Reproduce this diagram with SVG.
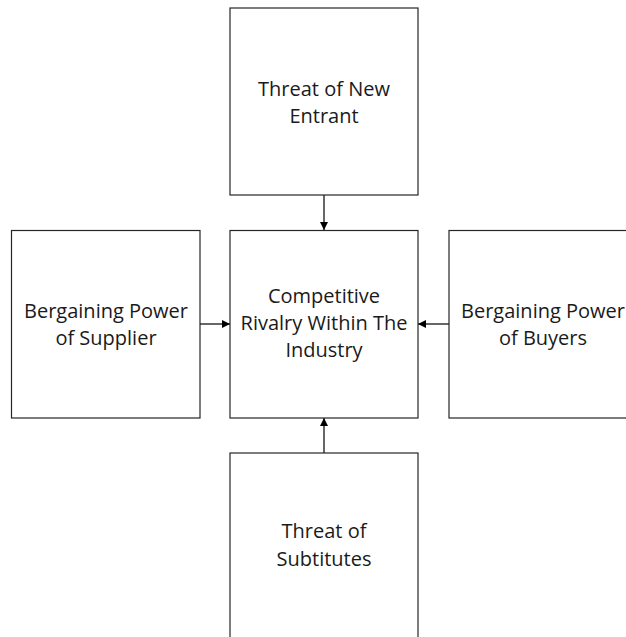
<svg xmlns="http://www.w3.org/2000/svg" width="626" height="637" viewBox="0 0 626 637">
<defs>
<style>
.box{fill:#fff;stroke:#262626;stroke-width:1.2}
.t{font-family:"Open Sans","Noto Sans",sans-serif;font-size:20px;fill:#1a1a1a;text-anchor:middle}
.c{stroke:#000;stroke-width:1.2;fill:none}
</style>
<marker id="ah" viewBox="0 0 10 10" refX="10" refY="5" markerWidth="8" markerHeight="8" markerUnits="userSpaceOnUse" orient="auto">
<path d="M0,0 L10,5 L0,10 z" fill="#000"/>
</marker>
</defs>
<g id="connectors">
<line class="c" x1="324" y1="195" x2="324" y2="230" marker-end="url(#ah)"/>
<line class="c" x1="200" y1="324" x2="230" y2="324" marker-end="url(#ah)"/>
<line class="c" x1="449" y1="324" x2="418" y2="324" marker-end="url(#ah)"/>
<line class="c" x1="324" y1="453" x2="324" y2="418" marker-end="url(#ah)"/>
</g>
<g id="new-entrant">
<rect class="box" x="230" y="8" width="188" height="187"/>
<text class="t" x="324" y="96">Threat of New</text>
<text class="t" x="324" y="123">Entrant</text>
</g>
<g id="supplier">
<rect class="box" x="11.5" y="230.5" width="188.5" height="187.5"/>
<text class="t" x="106" y="318">Bergaining Power</text>
<text class="t" x="106" y="345">of Supplier</text>
</g>
<g id="rivalry">
<rect class="box" x="230" y="230.5" width="188" height="187.5"/>
<text class="t" x="324" y="303">Competitive</text>
<text class="t" x="324" y="330">Rivalry Within The</text>
<text class="t" x="324" y="357">Industry</text>
</g>
<g id="buyers">
<rect class="box" x="449" y="230.5" width="188" height="187.5"/>
<text class="t" x="543" y="318">Bergaining Power</text>
<text class="t" x="543" y="345">of Buyers</text>
</g>
<g id="substitutes">
<rect class="box" x="230" y="453" width="188" height="190"/>
<text class="t" x="324" y="538">Threat of</text>
<text class="t" x="324" y="566">Subtitutes</text>
</g>
</svg>
